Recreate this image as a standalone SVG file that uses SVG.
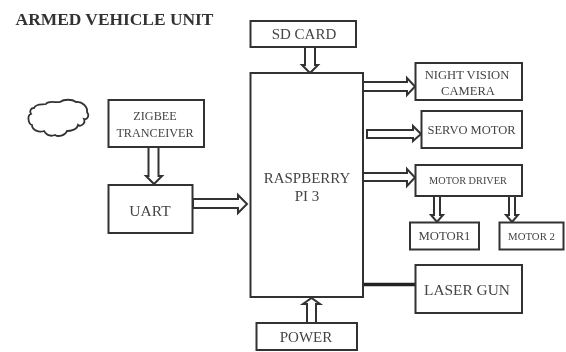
<svg xmlns="http://www.w3.org/2000/svg" width="566" height="352" viewBox="0 0 566 352">
<style>
.b{fill:#fff;stroke:#333;stroke-width:2}
.a{fill:#fff;stroke:#333;stroke-width:2;stroke-linejoin:miter}
text{font-family:"Liberation Serif","Times New Roman",serif;fill:#444;text-anchor:middle}
</style>
<defs><filter id="s" x="-2%" y="-2%" width="104%" height="104%"><feGaussianBlur stdDeviation="0.55"/></filter></defs>
<rect width="566" height="352" fill="#fff"/>
<g filter="url(#s)">
<text id="title" x="114.500" y="25" font-size="17.400" font-weight="bold" style="fill:#333">ARMED VEHICLE UNIT</text>
<g id="connectors">
<path class="a" d="M148.500 147V176H146L154 184L162 176H158.500V147Z"/>
<path class="a" d="M193 199H238V195L247 204L238 213V208H193Z"/>
<path class="a" d="M305 47V65H302L310 73L318 65H315V47Z"/>
<path class="a" d="M307 323V304H303L311.500 298L320 304H316V323Z"/>
<path class="a" d="M363 82H407V78L415 86.500L407 95V91H363Z"/>
<path class="a" d="M367 130H413V126L421 134L413 141V138H367Z"/>
<path class="a" d="M363 173H407V169L415 177.500L407 186V181H363Z"/>
<path class="a" d="M434 196V215H431L437 222L443 215H440V196Z"/>
<path class="a" d="M509 196V215H506L512 222L518 215H515V196Z"/>
<path d="M363 284.500H415" fill="none" stroke="#222" stroke-width="3.500"/>
</g>
<g id="cloud"><path d="M34 108C36 103 43 105 46 104C49 100 56 103 60 102C64 99 72 99 76 102C82 101 88 107 87 112C90 116 87 120 84 119C86 124 80 127 78 125C77 130 70 131 67 131C65 136 58 137 55 135C50 137 46 134 44 131C39 133 32 130 32 125C28 124 27 115 31 114C29 111 31 108 34 108Z" fill="#fff" stroke="#333" stroke-width="1.800"/></g>
<g id="zigbee"><rect class="b" x="108.500" y="100" width="95.500" height="47"/><text x="155" y="120" font-size="12.200">ZIGBEE</text><text x="155" y="137" font-size="12.200">TRANCEIVER</text></g>
<g id="uart"><rect class="b" x="108.500" y="185" width="84" height="48"/><text x="150" y="216" font-size="15.500">UART</text></g>
<g id="raspberry"><rect class="b" x="250.500" y="73" width="112.500" height="224"/><text x="307" y="183" font-size="15">RASPBERRY</text><text x="307" y="201" font-size="15">PI 3</text></g>
<g id="sdcard"><rect class="b" x="250.500" y="21" width="105.500" height="26"/><text x="304" y="39" font-size="15">SD CARD</text></g>
<g id="power"><rect class="b" x="256.500" y="323" width="100.500" height="27"/><text x="306" y="342" font-size="15">POWER</text></g>
<g id="night"><rect class="b" x="415.500" y="63" width="106.500" height="37"/><text x="467" y="79" font-size="12.600">NIGHT VISION</text><text x="468" y="95" font-size="12.600">CAMERA</text></g>
<g id="servo"><rect class="b" x="421.500" y="111" width="100.500" height="37"/><text x="471.500" y="134" font-size="12.500">SERVO MOTOR</text></g>
<g id="driver"><rect class="b" x="415.500" y="165" width="106.500" height="31"/><text x="468" y="184" font-size="10.300">MOTOR DRIVER</text></g>
<g id="motor1"><rect class="b" x="410" y="222.500" width="69" height="27"/><text x="444.500" y="240" font-size="12.700">MOTOR1</text></g>
<g id="motor2"><rect class="b" x="499.500" y="222.500" width="64" height="27"/><text x="531.500" y="240" font-size="10.800">MOTOR 2</text></g>
<g id="laser"><rect class="b" x="415.500" y="265" width="106.500" height="48"/><text x="467" y="295" font-size="15.400">LASER GUN</text></g>
</g>
</svg>
